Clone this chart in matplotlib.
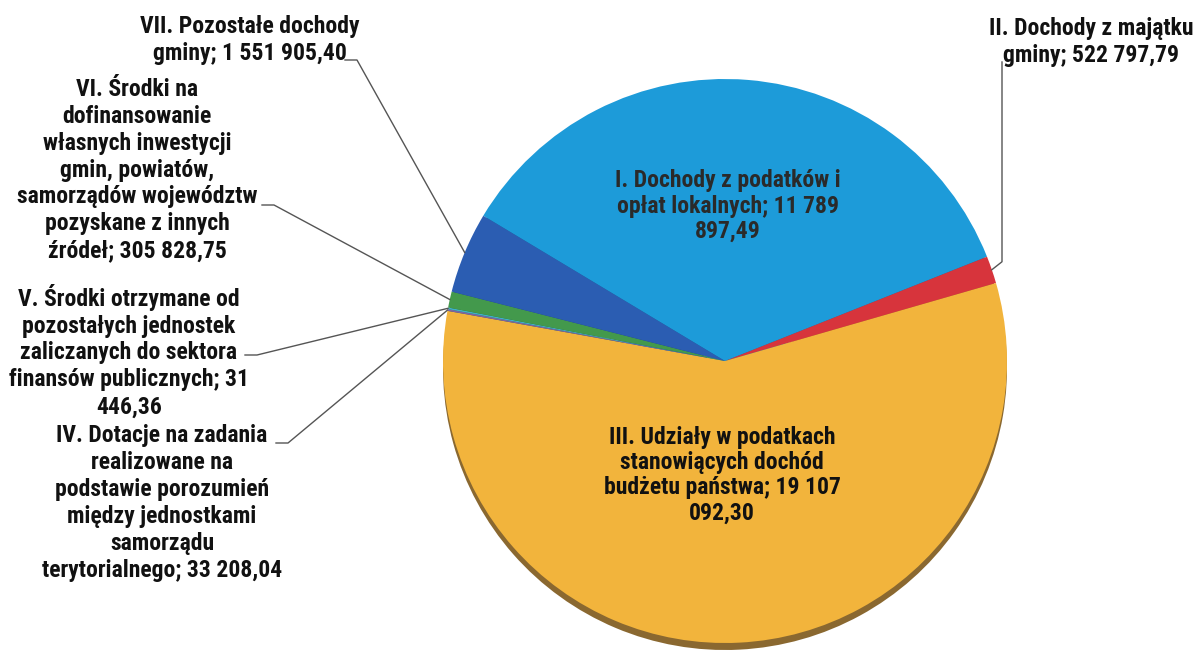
import numpy as np
import matplotlib
matplotlib.use('Agg')
import matplotlib.pyplot as plt
from matplotlib import font_manager

# data (PLN)
labels = [
    'I. Dochody z podatków i\nopłat lokalnych; 11 789\n897,49',
    'II. Dochody z majątku\ngminy; 522 797,79',
    'III. Udziały w podatkach\nstanowiących dochód\nbudżetu państwa; 19 107\n092,30',
    'IV. Dotacje na zadania\nrealizowane na\npodstawie porozumień\nmiędzy jednostkami\nsamorządu\nterytorialnego; 33 208,04',
    'V. Środki otrzymane od\npozostałych jednostek\nzaliczanych do sektora\nfinansów publicznych; 31\n446,36',
    'VI. Środki na\ndofinansowanie\nwłasnych inwestycji\ngmin, powiatów,\nsamorządów województw\npozyskane z innych\nźródeł; 305 828,75',
    'VII. Pozostałe dochody\ngminy; 1 551 905,40',
]
values = [11789897.49, 522797.79, 19107092.30, 33208.04, 31446.36, 305828.75, 1551905.40]
colors = ['#1d9bd9', '#d7343c', '#f2b43c', '#7e62a8', '#3fb0c8', '#43994c', '#2b5db2']
rim = ['#15709e', '#98242a', '#8a6830', '#5a467a', '#2d7e90', '#2f6d36', '#1f4280']

W, H = 1196, 651
fig = plt.figure(figsize=(W / 100, H / 100), dpi=100)
ax = fig.add_axes([0, 0, 1, 1])

def py(y):
    # pixel row (from top) -> data y
    return H - y

cx, cy, r = 725, py(361), 282
start = 149

# darker copy a few px lower gives the 3d rim
ax.pie(values, colors=rim, startangle=start, counterclock=False,
       center=(cx, cy - 7), radius=r, frame=True)
wedges, _ = ax.pie(values, colors=colors, startangle=start, counterclock=False,
                   center=(cx, cy), radius=r, frame=True)
ax.set_xlim(0, W)
ax.set_ylim(0, H)
ax.set_aspect('equal')
ax.axis('off')

# narrow bold face if one is installed, else plain Liberation Sans a bit smaller
names = {f.name for f in font_manager.fontManager.ttflist}
font, fs, ls = ['Liberation Sans', 'DejaVu Sans'], 13.5, 1.55
for nm in ['Liberation Sans Narrow', 'Roboto Condensed', 'Open Sans Condensed']:
    if nm in names:
        font, fs, ls = [nm, 'DejaVu Sans'], 17, 1.22
        break

def edge_point(w, frac=0.5):
    a = np.deg2rad(w.theta1 + (w.theta2 - w.theta1) * frac)
    return cx + r * np.cos(a), cy + r * np.sin(a)

# labels inside the pie
ax.text(728, py(206), labels[0], ha='center', va='center', fontsize=fs,
        fontweight='bold', family=font, color='#2a2a2a', linespacing=ls * 0.92)
ax.text(722, py(475), labels[2], ha='center', va='center', fontsize=fs,
        fontweight='bold', family=font, color='#111111', linespacing=ls * 0.92)

# outside labels: (index, text x, text y centre, leader start x, leader start y)
outside = [
    (6, 250, 40, 345, 60),
    (5, 137, 170, 262, 205),
    (4, 129, 351, 245, 355),
    (3, 162, 503, 276, 443),
    (1, 1091, 42, None, None),
]
for i, tx, ty, lx, ly in outside:
    ax.text(tx, py(ty), labels[i], ha='center', va='center', fontsize=fs,
            fontweight='bold', family=font, color='#111111', linespacing=ls)
    ex, ey = edge_point(wedges[i])
    if lx is None:
        ax.plot([1002, 1002, ex], [py(62), ey + 8, ey], color='#555555', lw=1)
    else:
        ax.plot([lx, lx + 12, ex], [py(ly), py(ly), ey], color='#555555', lw=1)

fig.savefig('out.png', dpi=100)
